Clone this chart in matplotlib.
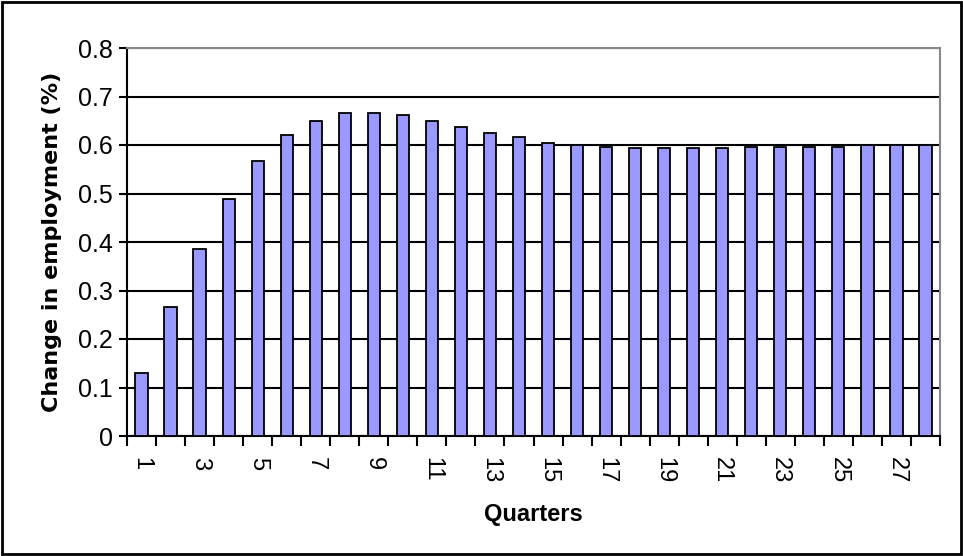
import matplotlib
matplotlib.use("Agg")
import matplotlib.pyplot as plt
import numpy as np

quarters = list(range(1, 29))
change = [0.13, 0.265, 0.385, 0.488, 0.567, 0.621, 0.650, 0.667, 0.667, 0.662,
          0.650, 0.638, 0.625, 0.617, 0.604, 0.600, 0.596, 0.593, 0.593, 0.593,
          0.593, 0.596, 0.596, 0.596, 0.596, 0.600, 0.600, 0.600]
yticks = [0, 0.1, 0.2, 0.3, 0.4, 0.5, 0.6, 0.7, 0.8]
ytick_labels = ["0", "0.1", "0.2", "0.3", "0.4", "0.5", "0.6", "0.7", "0.8"]

plt.rcParams['font.family'] = ['Liberation Sans', 'DejaVu Sans']

fig = plt.figure(figsize=(9.63, 5.56), dpi=100)
ax = fig.add_axes([127/963, 1-436/556, (940-127)/963, (436-48)/556])

x = np.arange(len(quarters))
ax.set_axisbelow(True)
ax.yaxis.grid(True, color='black', linewidth=1.5)
ax.bar(x, change, width=0.42, color='#9999FF', edgecolor='black', linewidth=1.3, zorder=3)

ax.set_xlim(-0.5, len(quarters)-0.5)
ax.set_ylim(0, 0.8)
ax.set_yticks(yticks)
ax.set_yticklabels(ytick_labels, fontsize=18)

major = [i for i, q in enumerate(quarters) if q % 2 == 1]
ax.set_xticks(major)
ax.set_xticklabels([str(quarters[i]) for i in major], rotation=-90, fontsize=17,
                   ha='center', va='top')
ax.set_xticks(np.arange(-0.5, len(quarters), 1.0), minor=True)
ax.tick_params(axis='x', which='major', length=0, pad=15)
ax.tick_params(axis='x', which='minor', length=7, width=1.5, direction='out', color='black')
ax.tick_params(axis='y', length=6, width=1.5, direction='out', pad=4)

ax.spines['left'].set_linewidth(1.5)
ax.spines['bottom'].set_linewidth(1.5)
ax.spines['top'].set_color('#888888')
ax.spines['right'].set_color('#888888')
ax.spines['top'].set_linewidth(1.5)
ax.spines['right'].set_linewidth(1.5)

ax.set_xlabel('Quarters', fontsize=17, fontweight='bold', labelpad=14)
ax.set_ylabel('Change in employment (%)', fontsize=16, fontweight='bold',
              family='DejaVu Sans', labelpad=12)

border = plt.Rectangle((0.002, 0.003), 0.996, 0.994, transform=fig.transFigure,
                       fill=False, edgecolor='black', linewidth=2)
fig.patches.append(border)

fig.savefig('out.png', dpi=100)
